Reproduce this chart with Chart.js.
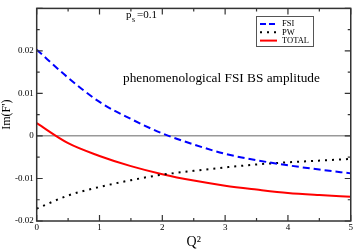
<!DOCTYPE html>
<html lang="en">
<head>
  <meta charset="utf-8">
  <title>Im(F') vs Q2</title>
  <script src="https://cdn.jsdelivr.net/npm/chart.js@4.4.0/dist/chart.umd.min.js"></script>
  <style>
    html, body { margin: 0; padding: 0; background: #fff; }
    #wrap { width: 354px; height: 251px; position: relative; }
  </style>
</head>
<body>
  <div id="wrap"><canvas id="myChart" width="354" height="251"></canvas></div>
  <script>
    // Q^2 values and the three curves
    var q2 = [0, 0.5, 1, 1.5, 2, 2.5, 3, 3.5, 4, 4.5, 5];
    var fsi = [0.0203, 0.0137, 0.0080, 0.0040, 0.0006, -0.0020, -0.0042, -0.0057, -0.0069, -0.0079, -0.0088];
    var pw = [-0.0171, -0.0140, -0.0120, -0.0104, -0.0091, -0.0082, -0.0074, -0.0067, -0.0062, -0.0058, -0.0054];
    var total = [0.0030, -0.0017, -0.0047, -0.0071, -0.0090, -0.0105, -0.0117, -0.0126, -0.0134, -0.0139, -0.0143];

    var xTicks = [0, 1, 2, 3, 4, 5];
    var yTicks = [-0.02, -0.01, 0, 0.01, 0.02, 0.03];
    var yTickLabels = ['-0.02', '-0.01', '0', '0.01', '0.02', ''];
    var legendLabels = ['FSI', 'PW', 'TOTAL'];

    function pts(ys) {
      var out = [];
      for (var i = 0; i < q2.length; i++) out.push({ x: q2[i], y: ys[i] });
      return out;
    }

    var serif = '"Liberation Serif", "DejaVu Serif", serif';

    // ticks pointing inwards on all four sides, plus the frame, legend and notes
    var framePlugin = {
      id: 'frame',
      afterDatasetsDraw: function (chart) {
        var ctx = chart.ctx;
        var a = chart.chartArea;
        var xs = chart.scales.x, ys = chart.scales.y;
        ctx.save();
        ctx.strokeStyle = '#333';
        ctx.lineWidth = 1.2;
        ctx.beginPath();
        for (var v = 0; v <= 5.0001; v += 0.5) {
          var px = xs.getPixelForValue(v);
          var len = (Math.abs(v - Math.round(v)) < 1e-6) ? 6 : 3;
          ctx.moveTo(px, a.bottom); ctx.lineTo(px, a.bottom - len);
          ctx.moveTo(px, a.top); ctx.lineTo(px, a.top + len);
        }
        for (var k = -4; k <= 6; k++) {
          var val = k * 0.005;
          var py = ys.getPixelForValue(val);
          var l2 = (k % 2 === 0) ? 6 : 3;
          ctx.moveTo(a.left, py); ctx.lineTo(a.left + l2, py);
          ctx.moveTo(a.right, py); ctx.lineTo(a.right - l2, py);
        }
        ctx.stroke();
        ctx.lineWidth = 1.5;
        ctx.strokeRect(a.left, a.top, a.right - a.left, a.bottom - a.top);

        // legend box
        var lx = 256, ly = 16, lw = 57, lh = 30;
        ctx.fillStyle = '#fff';
        ctx.fillRect(lx, ly, lw, lh);
        ctx.lineWidth = 1;
        ctx.strokeStyle = '#555';
        ctx.strokeRect(lx + 0.5, ly + 0.5, lw, lh);
        var styles = [
          { c: '#0000ff', d: [6, 3] },
          { c: '#000', d: [2, 5] },
          { c: '#ff0000', d: [] }
        ];
        ctx.font = '8.5px ' + serif;
        ctx.textBaseline = 'middle';
        for (var i = 0; i < legendLabels.length; i++) {
          var yy = 24 + i * 8.3;
          ctx.beginPath();
          ctx.setLineDash(styles[i].d);
          ctx.strokeStyle = styles[i].c;
          ctx.lineWidth = 2;
          ctx.moveTo(260, yy); ctx.lineTo(277, yy);
          ctx.stroke();
          ctx.setLineDash([]);
          ctx.fillStyle = '#000';
          ctx.fillText(legendLabels[i], 282, yy);
        }

        // annotations
        ctx.fillStyle = '#000';
        ctx.textBaseline = 'alphabetic';
        ctx.font = '11px ' + serif;
        ctx.fillText('p', 126, 18);
        ctx.font = '8px ' + serif;
        ctx.fillText('s', 132, 22);
        ctx.font = '11px ' + serif;
        ctx.fillText('=0.1', 137, 18);
        ctx.font = '13.3px ' + serif;
        ctx.fillText('phenomenological FSI BS amplitude', 123, 82);
        ctx.restore();
      }
    };

    var ctx = document.getElementById('myChart');
    var myChart = new Chart(ctx, {
      type: 'scatter',
      data: {
        datasets: [
          {
            label: legendLabels[0],
            data: pts(fsi),
            showLine: true,
            borderColor: '#0000ff',
            borderWidth: 2,
            borderDash: [7, 4],
            pointRadius: 0,
            cubicInterpolationMode: 'monotone'
          },
          {
            label: legendLabels[1],
            data: pts(pw),
            showLine: true,
            borderColor: '#000',
            borderWidth: 2,
            borderDash: [2, 5],
            pointRadius: 0,
            cubicInterpolationMode: 'monotone'
          },
          {
            label: legendLabels[2],
            data: pts(total),
            showLine: true,
            borderColor: '#ff0000',
            borderWidth: 2,
            pointRadius: 0,
            cubicInterpolationMode: 'monotone'
          }
        ]
      },
      options: {
        responsive: false,
        animation: false,
        devicePixelRatio: 1,
        layout: { padding: { top: 1, right: 2, left: 0, bottom: 0 } },
        plugins: { legend: { display: false }, tooltip: { enabled: false } },
        scales: {
          x: {
            type: 'linear',
            min: 0, max: 5,
            afterBuildTicks: function (s) { s.ticks = xTicks.map(function (v) { return { value: v }; }); },
            afterFit: function (s) { s.height = 30; },
            grid: { display: false, drawTicks: false },
            border: { display: false },
            ticks: { color: '#000', padding: 1, font: { family: serif, size: 9 } },
            title: { display: true, text: 'Q²', color: '#000', padding: { top: 0, bottom: 0 }, font: { family: serif, size: 14 } }
          },
          y: {
            type: 'linear',
            min: -0.02, max: 0.03,
            afterBuildTicks: function (s) { s.ticks = yTicks.map(function (v) { return { value: v }; }); },
            afterFit: function (s) { s.width = 36.7; },
            grid: {
              drawTicks: false,
              color: function (c) { return (c.tick && Math.abs(c.tick.value) < 1e-9) ? '#999' : 'rgba(0,0,0,0)'; },
              lineWidth: 1.5
            },
            border: { display: false },
            ticks: {
              color: '#000', padding: 3,
              font: { family: serif, size: 9 },
              callback: function (v, i) { return yTickLabels[i]; }
            },
            title: { display: true, text: "Im(F')", color: '#000', padding: { top: 0, bottom: 2 }, font: { family: serif, size: 12 } }
          }
        }
      },
      plugins: [framePlugin]
    });
  </script>
</body>
</html>
